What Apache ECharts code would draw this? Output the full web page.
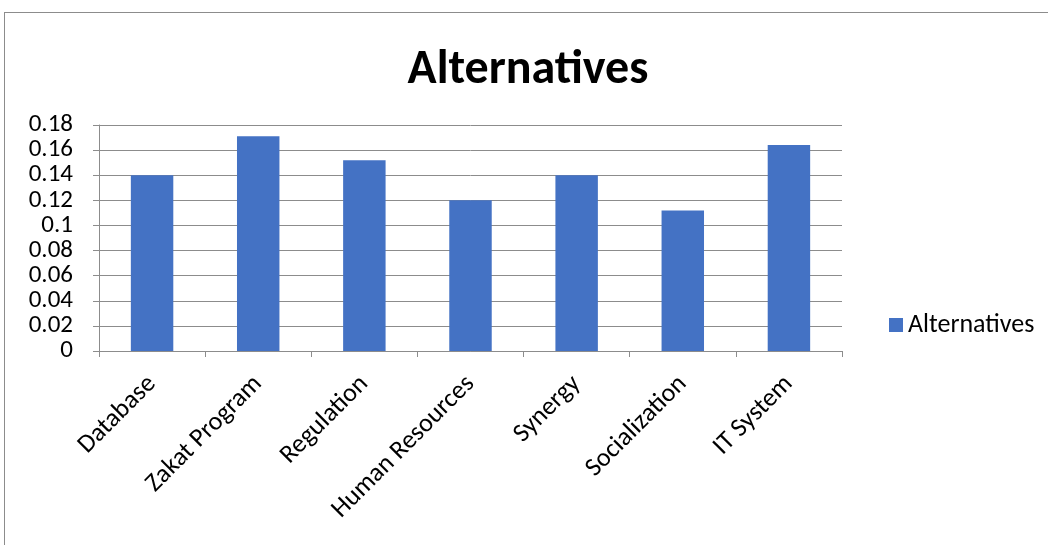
<!DOCTYPE html>
<html>
<head>
    <meta charset="utf-8">
    <title>Alternatives</title>
    <script src="https://cdn.jsdelivr.net/npm/echarts@6/dist/echarts.min.js"></script>
    <style>
        html, body { margin: 0; padding: 0; background: #fff; overflow: hidden; }
        #frame { position: absolute; left: 4px; top: 12px; width: 1100px; height: 600px; border: 1px solid #8c8c8c; }
        #chart { position: absolute; left: 0; top: 0; width: 1048px; height: 545px; }
    </style>
</head>
<body>
    <div id="frame"></div>
    <div id="chart"></div>
    <script>
    var categories = ["Database", "Zakat Program", "Regulation", "Human Resources", "Synergy", "Socialization", "IT System"];
    var values = [0.140, 0.171, 0.152, 0.120, 0.140, 0.112, 0.164];
    var seriesName = "Alternatives";

    var font = "Carlito, 'Open Sans', 'Liberation Sans', sans-serif";
    var gray = "#8c8c8c";

    var chart = echarts.init(document.getElementById("chart"), null, { renderer: "canvas" });
    chart.setOption({
        animation: false,
        title: {
            text: "Alternatives",
            left: 523,
            top: 42,
            textAlign: "center",
            textStyle: { fontFamily: font, fontSize: 48, fontWeight: "bold", color: "#000" }
        },
        legend: {
            data: [seriesName],
            left: 884,
            top: 307,
            itemWidth: 14,
            itemHeight: 14,
            itemGap: 8,
            icon: "rect",
            textStyle: { fontFamily: font, fontSize: 26, color: "#000" }
        },
        grid: { left: 99, right: 206, top: 125, bottom: 194, containLabel: false },
        xAxis: {
            type: "category",
            data: categories,
            axisLine: { lineStyle: { color: gray, width: 1 } },
            axisTick: { show: true, length: 6, lineStyle: { color: gray } },
            axisLabel: {
                rotate: 45,
                interval: 0,
                margin: 29,
                fontFamily: font,
                fontSize: 26,
                color: "#000"
            }
        },
        yAxis: {
            type: "value",
            min: 0,
            max: 0.18,
            interval: 0.02,
            axisLine: { show: true, lineStyle: { color: gray } },
            axisTick: { show: true, length: 6, lineStyle: { color: gray } },
            splitLine: { lineStyle: { color: gray, width: 1 } },
            axisLabel: {
                margin: 26,
                fontFamily: font,
                fontSize: 25,
                color: "#000",
                formatter: function (v) { return String(+v.toFixed(2)); }
            }
        },
        series: [{
            name: seriesName,
            type: "bar",
            data: values,
            barWidth: "40%",
            itemStyle: { color: "#4472C4" }
        }]
    });
    </script>
</body>
</html>
